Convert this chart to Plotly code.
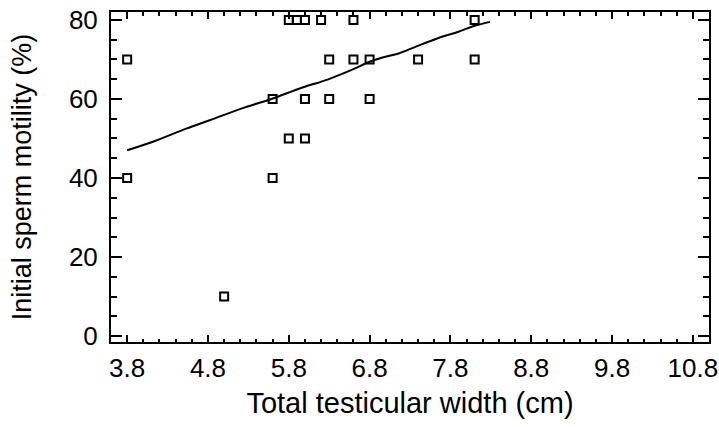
import plotly.graph_objects as go

# Scatter data: total testicular width (cm) vs initial sperm motility (%)
width_cm = [5.8, 5.9, 6.0, 6.2, 6.6, 8.1,
            3.8, 6.3, 6.6, 6.8, 7.4, 8.1,
            5.6, 6.0, 6.0, 6.3, 6.8,
            5.8, 6.0,
            3.8, 5.6,
            5.0]
motility_pct = [80, 80, 80, 80, 80, 80,
                70, 70, 70, 70, 70, 70,
                60, 60, 60, 60, 60,
                50, 50,
                40, 40,
                10]

# Smoothed fit curve
fit_x = [3.8, 4.16, 4.53, 4.82, 5.25, 5.585, 5.97, 6.28, 6.585, 6.8, 6.96,
         7.16, 7.38, 7.66, 7.9, 8.08, 8.29]
fit_y = [47.0, 49.5, 52.5, 54.6, 57.8, 60.0, 62.9, 64.9, 67.4, 69.4, 70.5,
         71.5, 73.3, 75.5, 77.0, 78.4, 79.5]

x_ticks = [3.8, 4.8, 5.8, 6.8, 7.8, 8.8, 9.8, 10.8]
x_ticktext = ["3.8", "4.8", "5.8", "6.8", "7.8", "8.8", "9.8", "10.8"]
y_ticks = [0, 20, 40, 60, 80]

fig = go.Figure()
fig.add_trace(go.Scatter(x=fit_x, y=fit_y, mode="lines",
                         line=dict(color="black", width=2, shape="spline"),
                         showlegend=False, hoverinfo="skip"))
fig.add_trace(go.Scatter(x=width_cm, y=motility_pct, mode="markers",
                         marker=dict(symbol="square-open", size=8, color="black",
                                     line=dict(width=2, color="black")),
                         showlegend=False))

font_family = "Liberation Sans, Arial, sans-serif"
axis_common = dict(showgrid=False, zeroline=False, showline=True, linecolor="black",
                   linewidth=2, mirror="allticks", ticks="inside",
                   tickwidth=2, tickcolor="black", automargin=False,
                   tickfont=dict(family=font_family, size=26, color="black"))

fig.update_xaxes(range=[3.6, 11.0], tickvals=x_ticks, ticktext=x_ticktext,
                 ticklen=7,
                 minor=dict(ticks="inside", dtick=0.2, tick0=3.8, ticklen=3.5,
                            tickwidth=1.5, tickcolor="black"),
                 title=dict(text="Total testicular width (cm)",
                            font=dict(family=font_family, size=29, color="black"),
                            standoff=10),
                 ticklabelstandoff=2,
                 **axis_common)
fig.update_yaxes(range=[-1.5, 82], tickvals=y_ticks, ticklen=11,
                 minor=dict(ticks="inside", dtick=5, tick0=0, ticklen=6,
                            tickwidth=1.5, tickcolor="black"),
                 title=dict(text="Initial sperm motility (%)",
                            font=dict(family=font_family, size=27, color="black"),
                            standoff=29),
                 ticklabelstandoff=6,
                 **axis_common)

fig.update_layout(width=719, height=427, plot_bgcolor="white", paper_bgcolor="white",
                  margin=dict(l=111, r=10, t=12, b=85),
                  font=dict(family=font_family, color="black"))

fig.write_html("out.html", config={"displayModeBar": False},
               post_script="document.body.style.margin='0';document.body.style.overflow='hidden';")
